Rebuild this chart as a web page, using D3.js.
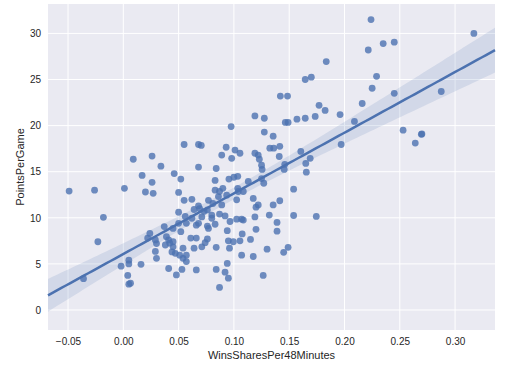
<!DOCTYPE html>
<html>
<head>
<meta charset="utf-8">
<script src="https://cdn.jsdelivr.net/npm/d3@7"></script>
<style>
    body { margin: 0; background: #fff; }
    text { font-family: "Liberation Sans", Arial, sans-serif; fill: #262626; }
    .grid line { stroke: #fff; stroke-width: 1; }
</style>
</head>
<body>
<div id="chart"></div>
<script>
// Win shares per 48 minutes (x) and points per game (y), one entry per player
const winShares = [
    -0.049, -0.026, -0.018, -0.023, -0.036, -0.002, 0.001, 0.009, 0.017, 0.020,
    0.026, 0.026, 0.027, 0.034, 0.004, 0.005, 0.005, 0.005, 0.0065, 0.016,
    0.022, 0.024, 0.029, 0.030, 0.029, 0.030, 0.046, 0.052, 0.050, 0.055,
    0.068, 0.0705, 0.068, 0.055, 0.062, 0.077, 0.050, 0.064, 0.068, 0.069,
    0.076, 0.056, 0.062, 0.073, 0.071, 0.050, 0.057, 0.066, 0.068, 0.076,
    0.037, 0.045, 0.052, 0.039, 0.041, 0.042, 0.045, 0.061, 0.066, 0.076,
    0.074, 0.038, 0.045, 0.054, 0.064, 0.071, 0.044, 0.047, 0.051, 0.057,
    0.054, 0.057, 0.041, 0.053, 0.066, 0.048, 0.080, 0.087, 0.092, 0.083,
    0.077, 0.0965, 0.1025, 0.107, 0.1085, 0.119, 0.132, 0.139, 0.120, 0.139,
    0.094, 0.1075, 0.095, 0.0995, 0.1055, 0.115, 0.084, 0.096, 0.130, 0.145,
    0.149, 0.107, 0.1175, 0.094, 0.084, 0.092, 0.095, 0.1265, 0.087, 0.154,
    0.1175, 0.122, 0.120, 0.1355, 0.1415, 0.154, 0.1745, 0.093, 0.101, 0.1055,
    0.089, 0.098, 0.119, 0.122, 0.123, 0.125, 0.1255, 0.1325, 0.136, 0.1415,
    0.141, 0.1275, 0.1355, 0.084, 0.0955, 0.100, 0.1035, 0.083, 0.113, 0.125,
    0.127, 0.1455, 0.146, 0.083, 0.090, 0.087, 0.104, 0.1035, 0.1085, 0.086,
    0.0935, 0.1025, 0.081, 0.089, 0.080, 0.224, 0.2215, 0.235, 0.245, 0.317,
    0.1835, 0.1645, 0.170, 0.229, 0.225, 0.245, 0.2875, 0.142, 0.1485, 0.177,
    0.1825, 0.216, 0.119, 0.1275, 0.1465, 0.149, 0.157, 0.1645, 0.1735, 0.196,
    0.209, 0.1605, 0.169, 0.165, 0.1655, 0.197, 0.253, 0.264, 0.2695, 0.270,
    0.0975
];

const pointsPerGame = [
    12.9, 13.0, 10.05, 7.4, 3.4, 4.75, 13.2, 16.35, 14.6, 12.8,
    16.7, 13.85, 12.65, 15.6, 3.75, 5.4, 5.0, 2.8, 2.9, 4.95,
    7.8, 8.3, 7.6, 7.2, 6.35, 5.6, 14.8, 14.2, 12.75, 17.95,
    17.95, 17.85, 15.5, 11.9, 12.0, 11.9, 10.6, 10.9, 11.3, 11.0,
    10.85, 10.15, 9.95, 10.7, 10.1, 9.4, 9.4, 9.2, 9.4, 9.1,
    9.05, 8.85, 8.5, 7.95, 7.6, 7.25, 7.4, 7.8, 7.8, 7.7,
    7.3, 7.05, 6.85, 6.7, 6.7, 6.85, 6.3, 6.15, 5.95, 5.95,
    5.6, 5.25, 4.5, 4.4, 4.35, 3.8, 9.95, 10.4, 10.2, 9.3,
    8.85, 9.6, 9.85, 9.85, 9.75, 10.1, 10.3, 9.5, 8.75, 8.55,
    8.6, 8.25, 7.5, 7.4, 7.5, 7.65, 6.8, 6.7, 6.6, 6.25,
    6.8, 5.95, 5.8, 5.05, 4.4, 4.1, 3.45, 3.75, 2.45, 13.1,
    12.1, 11.4, 11.15, 11.4, 11.85, 10.25, 10.15, 17.65, 17.35, 17.0,
    16.8, 16.45, 17.0, 16.8, 16.35, 15.7, 15.25, 17.55, 17.55, 17.75,
    16.65, 19.3, 18.85, 15.35, 14.2, 14.4, 14.5, 14.05, 13.95, 14.25,
    13.75, 15.25, 15.8, 13.0, 13.2, 12.85, 12.85, 13.2, 12.85, 12.3,
    12.45, 11.95, 11.55, 11.4, 10.3, 31.5, 28.2, 28.9, 29.05, 30.0,
    26.95, 25.0, 25.25, 25.35, 24.05, 23.5, 23.7, 23.2, 23.2, 22.2,
    21.65, 22.4, 21.05, 20.8, 20.35, 20.35, 20.7, 20.8, 21.0, 21.2,
    20.45, 17.2, 16.45, 15.9, 14.95, 17.95, 19.5, 18.1, 19.05, 19.1,
    19.9
];

const xTicks = [-0.05, 0.00, 0.05, 0.10, 0.15, 0.20, 0.25, 0.30];
const yTicks = [0, 5, 10, 15, 20, 25, 30];
const xDomain = [-0.0681, 0.3361];
const yDomain = [-2.17, 33.19];

document.addEventListener('DOMContentLoaded', drawChart);

// least squares fit with a 95% band for the mean
function fitLine(xs, ys) {
    const n = xs.length;
    const xm = d3.mean(xs), ym = d3.mean(ys);
    let sxx = 0, sxy = 0;
    xs.forEach((x, i) => {
        sxx += (x - xm) * (x - xm);
        sxy += (x - xm) * (ys[i] - ym);
    });
    const slope = sxy / sxx;
    const intercept = ym - slope * xm;
    let sse = 0;
    xs.forEach((x, i) => {
        const r = ys[i] - (intercept + slope * x);
        sse += r * r;
    });
    const s = Math.sqrt(sse / (n - 2));
    const t = 1.97;
    return x => {
        const y = intercept + slope * x;
        const half = t * s * Math.sqrt(1 / n + (x - xm) * (x - xm) / sxx);
        return {x, y, lo: y - half, hi: y + half};
    };
}

function drawChart() {
    const margin = {top: 4, right: 15, bottom: 40, left: 48};
    const width = 510 - margin.left - margin.right;
    const height = 370 - margin.top - margin.bottom;

    const svg = d3.select("#chart")
        .append("svg")
        .attr("width", 510)
        .attr("height", 370)
        .append("g")
        .attr("transform", `translate(${margin.left},${margin.top})`);

    const xScale = d3.scaleLinear().domain(xDomain).range([0, width]);
    const yScale = d3.scaleLinear().domain(yDomain).range([height, 0]);

    // plot background
    svg.append("rect")
        .attr("width", width)
        .attr("height", height)
        .attr("fill", "#EAEAF2");

    // grid
    const grid = svg.append("g").attr("class", "grid");
    grid.selectAll(".vx")
        .data(xTicks)
        .enter()
        .append("line")
        .attr("x1", d => xScale(d))
        .attr("x2", d => xScale(d))
        .attr("y1", 0)
        .attr("y2", height);
    grid.selectAll(".hy")
        .data(yTicks)
        .enter()
        .append("line")
        .attr("x1", 0)
        .attr("x2", width)
        .attr("y1", d => yScale(d))
        .attr("y2", d => yScale(d));

    // axes, no domain line and no tick marks
    const fmtX = d => d3.format(".2f")(d).replace("-", "\u2212");
    const xAxis = svg.append("g")
        .attr("transform", `translate(0,${height})`)
        .call(d3.axisBottom(xScale).tickValues(xTicks).tickFormat(fmtX).tickSize(0).tickPadding(8));
    const yAxis = svg.append("g")
        .call(d3.axisLeft(yScale).tickValues(yTicks).tickFormat(d3.format("d")).tickSize(0).tickPadding(7));
    [xAxis, yAxis].forEach(a => {
        a.select(".domain").remove();
        a.selectAll("text")
            .attr("fill", "#262626")
            .style("font-size", "10px")
            .style("font-family", '"Liberation Sans", Arial, sans-serif');
    });

    svg.append("text")
        .attr("x", width / 2)
        .attr("y", height + 29)
        .style("text-anchor", "middle")
        .style("font-size", "11px")
        .text("WinsSharesPer48Minutes");

    svg.append("text")
        .attr("transform", "rotate(-90)")
        .attr("x", -height / 2)
        .attr("y", -24)
        .style("text-anchor", "middle")
        .style("font-size", "11px")
        .text("PointsPerGame");

    // regression line and confidence band across the whole x range
    const fit = fitLine(winShares, pointsPerGame);
    const lineData = d3.range(0, 101).map(i => fit(xDomain[0] + (xDomain[1] - xDomain[0]) * i / 100));

    svg.append("path")
        .datum(lineData)
        .attr("fill", "#4C72B0")
        .attr("fill-opacity", 0.15)
        .attr("d", d3.area()
            .x(d => xScale(d.x))
            .y0(d => yScale(d.lo))
            .y1(d => yScale(d.hi)));

    // scatter
    svg.append("g")
        .selectAll("circle")
        .data(winShares.map((x, i) => ({x, y: pointsPerGame[i]})))
        .enter()
        .append("circle")
        .attr("cx", d => xScale(d.x))
        .attr("cy", d => yScale(d.y))
        .attr("r", 3.4)
        .attr("fill", "#4C72B0")
        .attr("fill-opacity", 0.8);

    svg.append("path")
        .datum(lineData)
        .attr("fill", "none")
        .attr("stroke", "#4C72B0")
        .attr("stroke-width", 2.5)
        .attr("d", d3.line()
            .x(d => xScale(d.x))
            .y(d => yScale(d.y)));
}
</script>
</body>
</html>
